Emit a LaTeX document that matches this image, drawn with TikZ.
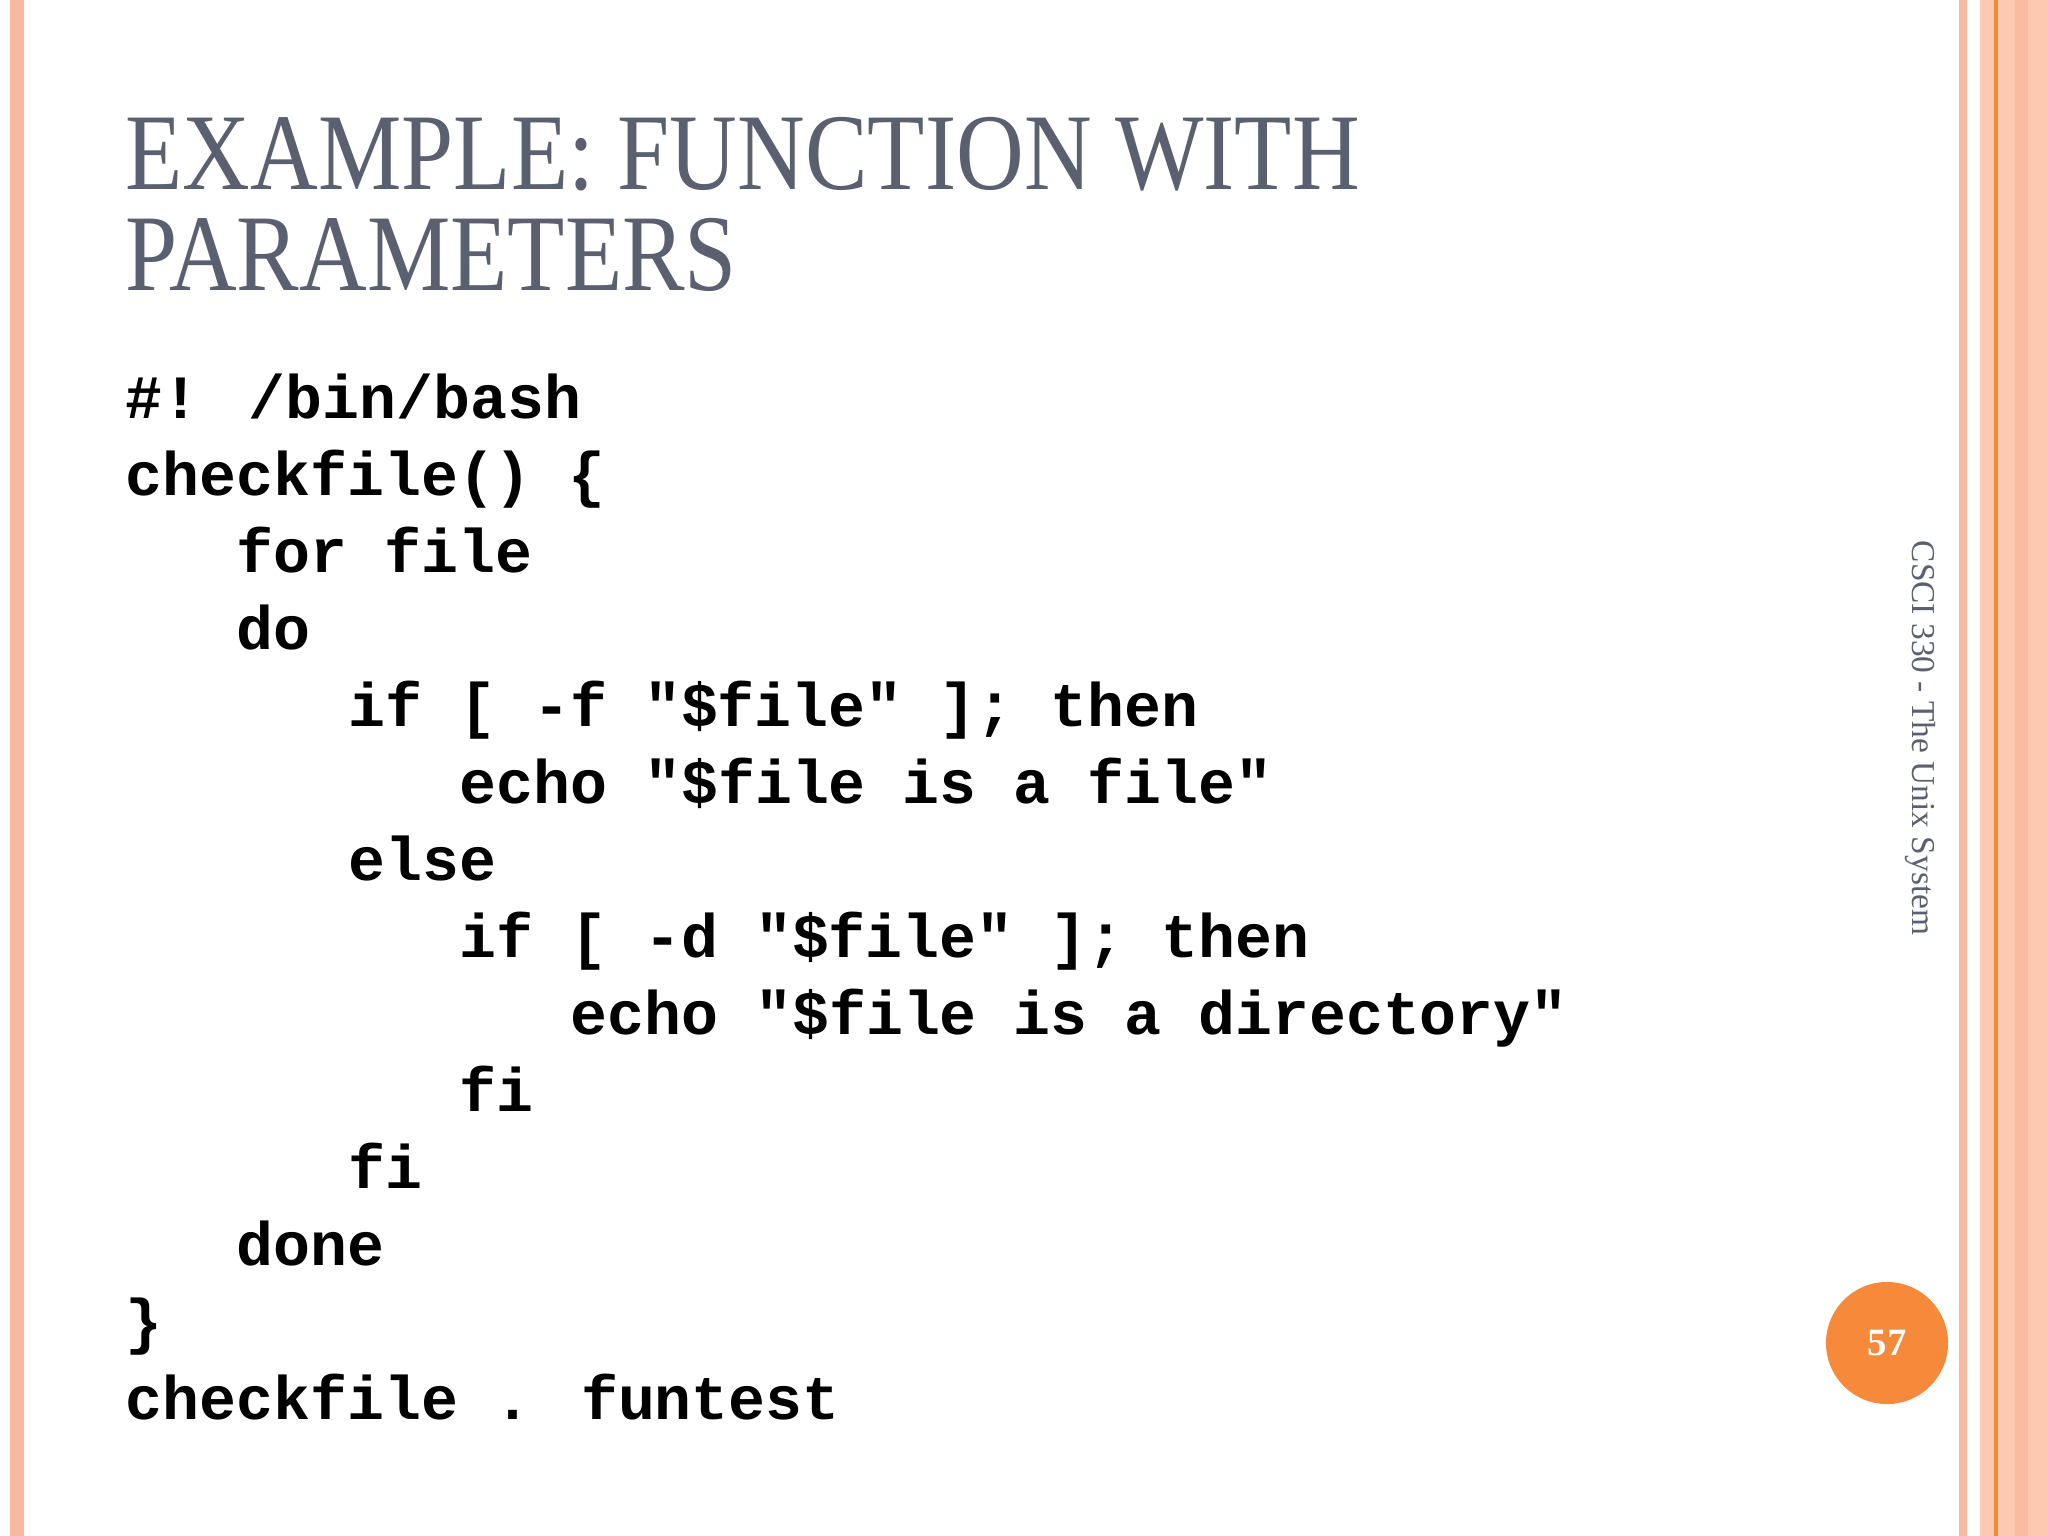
\documentclass[tikz,border=0pt]{standalone}
\usepackage{fontspec}
\setmainfont{Liberation Serif}
\newfontfamily\codefont{Liberation Mono}
\usepackage{tikz}
\definecolor{titlegray}{HTML}{5A6070}
\definecolor{peach}{HTML}{FDC9B0}
\definecolor{salmon}{HTML}{F9B8A0}
\definecolor{deeporange}{HTML}{F08A3C}
\definecolor{badge}{HTML}{F68A3A}
\begin{document}
\begin{tikzpicture}[x=0.01cm,y=-0.01cm,
    title/.style={anchor=base west,inner sep=0,xscale=0.86,font=\fontsize{31}{31}\selectfont,text=titlegray},
    code/.style={anchor=base west,inner sep=0,font=\codefont\bfseries\fontsize{17.5}{17.5}\selectfont}]
    % Page and borders
    \useasboundingbox (0,0) rectangle (2048,1536);
    \fill[white] (0,0) rectangle (2048,1536);
    \fill[salmon] (10,0) rectangle (24,1536);
    \fill[salmon] (1959,0) rectangle (1967,1536);
    \fill[peach] (1980,0) rectangle (2048,1536);
    \fill[salmon!80!peach] (2015,0) rectangle (2028,1536);
    \draw[deeporange,line width=1pt] (1996,0) -- (1996,1536);
    % Title
    \node[title] (t1) at (125,189) {EXAMPLE: FUNCTION WITH};
    \node[title] (t2) at (125,290) {PARAMETERS};
    % Code
    \node[code] (c1) at (125,418) {\#! /bin/bash};
    \node[code] (c2) at (125,495) {checkfile() \{};
    \node[code] (c3) at (236,572) {for file};
    \node[code] (c4) at (236,649) {do};
    \node[code] (c5) at (348,726) {if [ -f "\$file" ]; then};
    \node[code] (c6) at (459,803) {echo "\$file is a file"};
    \node[code] (c7) at (348,880) {else};
    \node[code] (c8) at (459,957) {if [ -d "\$file" ]; then};
    \node[code] (c9) at (570,1034) {echo "\$file is a directory"};
    \node[code] (c10) at (459,1111) {fi};
    \node[code] (c11) at (348,1188) {fi};
    \node[code] (c12) at (236,1265) {done};
    \node[code] (c13) at (125,1342) {\}};
    \node[code] (c14) at (125,1419) {checkfile . funtest};
    % Footer
    \node[rotate=-90,text=titlegray,font=\fontsize{9.5}{9.5}\selectfont] (foot) at (1920,738) {CSCI 330 - The Unix System};
    \node[circle,fill=badge,minimum size=1.22cm,inner sep=0,text=white,font=\bfseries\fontsize{11}{11}\selectfont] (page) at (1887,1343) {57};
\end{tikzpicture}
\end{document}
